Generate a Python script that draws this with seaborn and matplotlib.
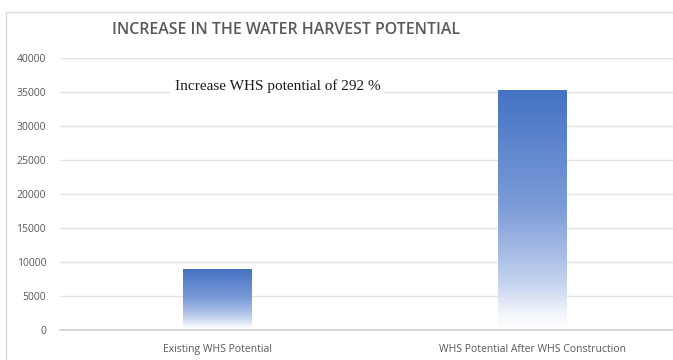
import numpy as np
import pandas as pd
import seaborn as sns
import matplotlib.pyplot as plt
from matplotlib.colors import LinearSegmentedColormap
from matplotlib.patches import Rectangle

categories = ['Existing WHS Potential', 'WHS Potential After WHS Construction']
potential = [8970, 35160]
y_ticks = [0, 5000, 10000, 15000, 20000, 25000, 30000, 35000, 40000]
title = 'INCREASE IN THE WATER HARVEST POTENTIAL'
note = 'Increase WHS potential of 292 %'

df = pd.DataFrame({'category': categories, 'value': potential})

sns.set_style('white')
plt.rcParams['font.family'] = ['Open Sans', 'DejaVu Sans']

fig = plt.figure(figsize=(6.73, 3.6), dpi=100)
ax = fig.add_axes([60 / 673, 30 / 360, 630 / 673, 272 / 360])

sns.barplot(data=df, x='category', y='value', color='#4472C4', width=0.216, ax=ax)

# swap solid bars for a blue -> white vertical gradient
cmap = LinearSegmentedColormap.from_list(
    'fade', [(0, '#FFFFFF'), (0.06, '#F4F7FC'), (0.2, '#C3D2EE'),
             (0.5, '#7E9DD8'), (1, '#4472C4')])
grad = np.linspace(0, 1, 256).reshape(-1, 1)
for bar in ax.patches:
    x0, w, h = bar.get_x(), bar.get_width(), bar.get_height()
    bar.set_visible(False)
    ax.imshow(grad, cmap=cmap, aspect='auto', origin='lower',
              extent=[x0, x0 + w, 0, h], zorder=2)
ax.set_xlim(-0.5, 1.5)
ax.set_ylim(0, 40000)
ax.set_yticks(y_ticks)
ax.set_yticklabels([str(t) for t in y_ticks])
ax.yaxis.grid(True, color='#E4E4E4', linewidth=1)
ax.set_axisbelow(True)
for s in ['top', 'right', 'left']:
    ax.spines[s].set_visible(False)
ax.spines['bottom'].set_color('#D0D0D0')
ax.spines['bottom'].set_linewidth(1.2)
ax.tick_params(axis='both', length=0, labelsize=7.5, labelcolor='#595959')
ax.tick_params(axis='y', pad=10)
ax.tick_params(axis='x', pad=10)
ax.set_xlabel('')
ax.set_ylabel('')

ax.text(0.19, 35800, note, fontsize=11, family='Liberation Serif', color='#1a1a1a',
        ha='center', va='center', zorder=3,
        bbox=dict(facecolor='white', edgecolor='none', pad=3))

fig.text(286 / 673, 1 - 30 / 360, title, fontsize=11.4, fontweight='semibold',
         color='#595959', ha='center', va='center')

# light frame of the chart box
fig.patches.append(Rectangle((6 / 673, -0.1), 1.2, (1 - 12 / 360) + 0.1, transform=fig.transFigure,
                             fill=False, edgecolor='#D9D9D9', linewidth=1))

fig.savefig('out.png', dpi=100)
